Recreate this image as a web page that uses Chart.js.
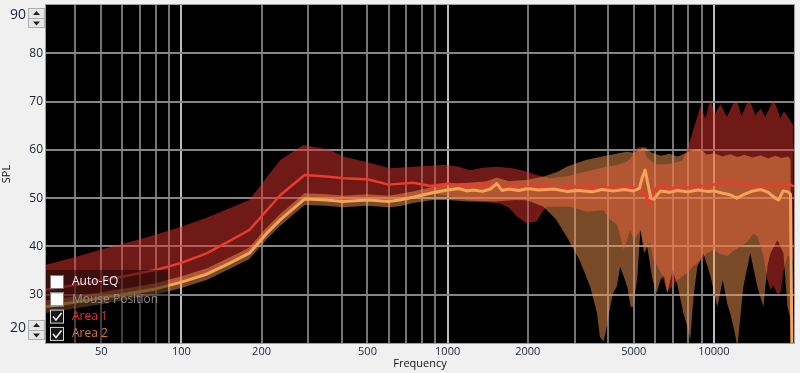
<!DOCTYPE html>
<html>
<head>
<meta charset="utf-8">
<script src="https://cdn.jsdelivr.net/npm/chart.js"></script>
<style>
  html, body { margin: 0; padding: 0; background: #f0f0f0; }
  canvas { display: block; }
</style>
</head>
<body>
<canvas id="chart" width="800" height="373"></canvas>
<script>
// ---- data (Hz / dB SPL) ----
const a1MeanHz = [31,40,50,63,80,100,125,150,180,235,290,350,405,500,600,740,860,1000,1200,1400,1600,1800,2000,2300,2600,3000,3400,3800,4200,4600,5000,5300,5500,5700,5850,6050,6400,6900,7500,8000,8700,9400,10000,11000,12000,13000,14000,15000,16000,17000,18000,19000,19900];
const a1MeanDb = [31.0,32.0,33.0,34.0,35.1,36.6,38.6,41.0,43.4,50.6,54.8,54.5,54.1,53.9,52.8,53.2,52.5,53.0,52.5,52.7,52.2,52.6,52.3,52.5,52.0,52.4,52.2,52.4,52.0,52.3,52.2,51.5,51.0,48.8,49.5,52.0,52.6,52.0,52.5,52.2,52.6,52.4,52.8,53.3,53.4,52.8,52.5,52.2,52.6,53.0,52.4,53.0,52.5];

const a1TopHz = [31,40,52,63,80,100,125,150,180,235,287,360,405,496,607,742,990,1100,1213,1350,1530,1750,1980,2160,2430,2800,3300,3800,4300,4700,5000,5150,5400,5600,6000,6500,7000,7600,8000,8300,8900,9300,9700,10100,10600,11200,11800,12250,12700,13300,13700,14300,15000,15600,16300,16750,17300,17800,18300,18900,19400,19900];
const a1TopDb = [36.2,37.8,39.6,40.8,42.4,44.1,46.0,47.8,49.6,57.9,61.0,60.0,58.6,57.5,56.2,56.5,56.9,56.5,55.8,56.3,56.5,56.2,55.5,54.8,54.1,54.5,55.5,56.3,56.8,57.5,59.0,60.4,60.6,58.5,57.0,57.0,57.2,57.8,60.5,63.5,69.0,66.5,70.3,67.5,69.5,66.8,69.5,70.0,67.0,69.5,70.0,67.2,68.5,66.8,69.0,70.3,68.5,66.5,68.0,67.0,66.0,65.0];

const a1BotHz = [31,40,50,63,80,100,125,150,180,209,235,290,350,405,500,600,740,880,1000,1180,1400,1570,1700,1820,1980,2160,2290,2360,2880,3330,3850,4080,4330,4590,4850,5000,5300,5470,5770,5920,6130,6400,6680,7040,7290,7950,8400,8900,9400,9950,10500,11240,11800,12580,13400,14100,14600,15350,15900,16300,16750,17340,17800,18300,18900,19400,19900];
const a1BotDb = [27.8,28.8,29.6,30.5,31.5,32.9,34.6,36.7,38.9,43.0,45.8,50.1,49.9,49.6,49.9,49.6,50.5,51.0,50.5,49.6,49.2,48.9,48.0,46.2,44.8,45.2,47.5,48.2,48.2,47.2,47.5,45.5,44.5,39.3,43.4,41.3,43.4,40.0,40.7,37.2,36.0,34.0,30.5,32.0,33.0,34.5,36.0,37.0,38.5,39.3,38.5,38.0,39.0,40.0,41.0,42.7,42.0,38.0,33.0,31.0,32.0,30.0,30.5,35.0,38.0,38.0,37.0];

const a2MeanHz = [31,40,50,63,80,100,125,150,180,209,235,290,350,405,500,600,660,740,880,1000,1100,1180,1250,1350,1450,1530,1600,1700,1850,2000,2200,2500,2800,3100,3500,3800,4200,4600,5000,5250,5400,5520,5650,5800,5950,6300,6800,7300,8000,8700,9400,10000,10800,11500,12200,13000,14000,15000,16000,17000,17500,18200,19000,19400,19700];
const a2MeanDb = [27.5,28.5,29.3,30.2,31.2,32.6,34.3,36.4,38.6,42.7,45.5,49.8,49.6,49.3,49.6,49.3,49.6,50.2,51.1,51.7,52.0,51.5,51.7,51.4,51.9,53.0,51.6,51.9,51.6,52.0,51.7,51.9,51.4,51.6,51.3,51.8,51.5,51.8,51.5,52.0,54.5,55.8,53.0,50.0,49.8,51.5,51.2,51.6,51.3,51.7,51.4,51.5,51.0,50.7,50.0,50.8,51.5,51.8,51.2,50.0,49.6,51.5,51.3,50.8,12];

const a2TopHz = [31,40,50,63,80,100,125,150,180,209,235,290,350,405,500,600,740,880,1000,1200,1400,1530,1700,2000,2300,2600,2800,3300,3800,4300,4700,5000,5300,5500,5800,6300,6800,7300,7900,8400,8900,9400,10000,10800,11500,12300,13000,14000,15000,16000,17000,18000,19000,19400,19700];
const a2TopDb = [28.8,29.7,30.5,31.4,32.4,33.8,35.5,37.6,39.8,43.9,46.7,51.0,50.8,50.5,50.8,50.5,51.4,52.3,53.0,53.2,53.5,54.3,53.5,53.8,54.5,55.5,56.5,57.9,58.6,59.2,59.6,59.4,60.2,60.6,59.5,58.8,59.2,58.6,59.4,60.0,60.2,59.0,59.3,58.6,59.1,58.5,59.0,58.4,58.9,58.2,58.8,58.3,58.6,58.0,12];

const a2BotHz = [31,40,50,63,80,100,125,150,180,209,235,290,350,405,500,600,660,740,880,1000,1200,1500,1800,2000,2290,2560,2800,3130,3430,3640,3730,3850,3950,4080,4180,4320,4450,4590,4730,4870,4980,5160,5300,5470,5620,5890,6100,6290,6500,6680,7000,7300,7680,8000,8150,8400,8670,9130,9450,9700,10300,10800,11240,11540,12000,12250,12900,13700,14580,15350,15900,16320,17340,18260,18900,19400,19700];
const a2BotDb = [26.2,27.2,28.0,29.0,30.0,31.4,33.1,35.2,37.4,41.5,44.3,48.6,48.4,48.1,48.4,48.1,48.3,49.0,49.6,49.6,49.3,49.3,49.6,49.5,48.2,45.5,42.0,37.2,31.7,26.2,21.3,20.3,23.0,27.5,30.3,31.7,35.8,33.7,31.6,27.5,27.5,33.7,43.4,38.6,39.9,33.0,30.3,33.0,34.0,30.3,35.0,32.0,26.2,23.0,20.6,30.0,35.8,38.6,36.0,34.0,27.5,33.0,28.0,26.0,22.0,19.0,31.6,38.6,31.6,27.5,36.0,38.6,41.3,38.6,27.5,25.0,12];

// axes
const xGrid = [40,50,60,70,80,90,100,200,300,400,500,600,700,800,900,1000,2000,3000,4000,5000,6000,7000,8000,9000,10000];
const xLabels = [50,100,200,500,1000,2000,5000,10000];
const xDecades = [100,1000,10000];
const yTicks = [30,40,50,60,70,80];
const yMin = 20, yMax = 90;

const legendLabels = ['Auto-EQ', 'Mouse Position', 'Area 1', 'Area 2'];
const legendChecked = [false, false, true, true];
const legendColors = ['#eef0ff', '#8c8c8c', '#e8322a', '#e07a2e'];

const pts = (hz, db) => hz.map((f, i) => ({x: f, y: db[i]}));

Chart.defaults.font.family = '"Open Sans", "Noto Sans", sans-serif';
const axisText = '#1b2233';

function spinner(ctx, x, y, w, h) {
  ctx.fillStyle = '#e6e6e6';
  ctx.fillRect(x, y, w, h);
  ctx.strokeStyle = '#adadad';
  ctx.lineWidth = 1;
  ctx.strokeRect(x + 0.5, y + 0.5, w - 1, h - 1);
  ctx.beginPath();
  ctx.moveTo(x + 1, y + h / 2 + 0.5);
  ctx.lineTo(x + w - 1, y + h / 2 + 0.5);
  ctx.stroke();
  const cx = x + w / 2;
  ctx.fillStyle = '#222';
  ctx.beginPath();
  ctx.moveTo(cx - 3.5, y + h / 4 + 2);
  ctx.lineTo(cx + 3.5, y + h / 4 + 2);
  ctx.lineTo(cx, y + h / 4 - 2);
  ctx.fill();
  ctx.beginPath();
  ctx.moveTo(cx - 3.5, y + 3 * h / 4 - 1.5);
  ctx.lineTo(cx + 3.5, y + 3 * h / 4 - 1.5);
  ctx.lineTo(cx, y + 3 * h / 4 + 2.5);
  ctx.fill();
}

const plotFrame = {
  id: 'plotFrame',
  beforeDraw(chart) {
    const {ctx, chartArea: a} = chart;
    ctx.save();
    ctx.fillStyle = '#000';
    ctx.fillRect(a.left, a.top, a.right - a.left, a.bottom - a.top);
    ctx.restore();
  },
  afterDraw(chart) {
    const {ctx, chartArea: a} = chart;
    ctx.save();
    ctx.strokeStyle = '#a0a0a0';
    ctx.lineWidth = 1;
    ctx.strokeRect(a.left - 0.5, a.top - 0.5, a.right - a.left + 1, a.bottom - a.top + 1);
    // axis limits with spin buttons
    ctx.font = '14px "Open Sans"';
    ctx.fillStyle = axisText;
    ctx.textAlign = 'right';
    ctx.textBaseline = 'middle';
    ctx.fillText(String(yMax), 26, 15);
    ctx.fillText(String(yMin), 26, 328);
    spinner(ctx, 28, 8, 17, 20);
    spinner(ctx, 28, 320, 17, 20);
    ctx.restore();
  }
};

const legendBox = {
  id: 'legendBox',
  afterDatasetsDraw(chart) {
    const {ctx, chartArea: a} = chart;
    ctx.save();
    ctx.fillStyle = 'rgba(0,0,0,0.45)';
    ctx.fillRect(a.left, 270, 122, a.bottom - 270);
    ctx.font = '12px "Open Sans"';
    ctx.textBaseline = 'middle';
    ctx.textAlign = 'left';
    legendLabels.forEach((label, i) => {
      const top = 275 + i * 17.3;
      const bx = 50, s = 14;
      if (legendChecked[i]) {
        ctx.fillStyle = 'rgba(40,40,40,0.6)';
        ctx.fillRect(bx, top, s, s);
        ctx.strokeStyle = '#d8d8d8';
        ctx.lineWidth = 1;
        ctx.strokeRect(bx + 0.5, top + 0.5, s - 1, s - 1);
        ctx.strokeStyle = '#f2f2f2';
        ctx.lineWidth = 1.6;
        ctx.beginPath();
        ctx.moveTo(bx + 3, top + 7);
        ctx.lineTo(bx + 6, top + 10.5);
        ctx.lineTo(bx + 11.5, top + 3.5);
        ctx.stroke();
      } else {
        ctx.fillStyle = '#fbfbfb';
        ctx.fillRect(bx, top, s, s);
        ctx.strokeStyle = '#7a7a7a';
        ctx.lineWidth = 1;
        ctx.strokeRect(bx + 0.5, top + 0.5, s - 1, s - 1);
      }
      ctx.fillStyle = legendColors[i];
      ctx.fillText(label, 72, top + s / 2);
    });
    ctx.restore();
  }
};

const bandRed = 'rgba(222,52,44,0.5)';
const bandOrange = 'rgba(250,155,82,0.48)';

new Chart(document.getElementById('chart'), {
  type: 'line',
  data: {
    datasets: [
      {label: 'Area 1 min', data: pts(a1BotHz, a1BotDb), borderWidth: 0, fill: false, order: 10},
      {label: 'Area 1 max', data: pts(a1TopHz, a1TopDb), borderWidth: 0, fill: '-1', backgroundColor: bandRed, order: 9},
      {label: 'Area 2 min', data: pts(a2BotHz, a2BotDb), borderWidth: 0, fill: false, order: 8},
      {label: 'Area 2 max', data: pts(a2TopHz, a2TopDb), borderWidth: 0, fill: '-1', backgroundColor: bandOrange, order: 7},
      {label: 'Area 1', data: pts(a1MeanHz, a1MeanDb), borderColor: '#ec3b2c', borderWidth: 2.5, fill: false, order: 2},
      {label: 'Area 2', data: pts(a2MeanHz, a2MeanDb), borderColor: '#f2a458', borderWidth: 3, fill: false, order: 1}
    ]
  },
  options: {
    responsive: false,
    animation: false,
    events: [],
    layout: {padding: {top: 5, right: 6, left: 0, bottom: 0}},
    elements: {
      point: {radius: 0},
      line: {tension: 0, borderJoinStyle: 'round', borderCapStyle: 'round'}
    },
    plugins: {legend: {display: false}, tooltip: {enabled: false}},
    scales: {
      x: {
        type: 'logarithmic',
        min: 31,
        max: 20000,
        afterBuildTicks: s => { s.ticks = xGrid.map(v => ({value: v})); },
        afterFit: s => { s.height = 30; s.paddingLeft = 0; s.paddingRight = 0; },
        grid: {
          color: c => (c.tick && xDecades.includes(c.tick.value)) ? '#bcbcbc' : '#747474',
          lineWidth: 2,
          drawTicks: false
        },
        border: {display: false},
        ticks: {
          autoSkip: false,
          maxRotation: 0,
          padding: 2,
          color: axisText,
          font: {size: 11},
          callback: v => xLabels.includes(v) ? String(v) : ''
        },
        title: {display: true, text: 'Frequency', color: '#111', font: {size: 11}, padding: {top: 0, bottom: 3}}
      },
      y: {
        min: yMin,
        max: yMax,
        afterBuildTicks: s => { s.ticks = yTicks.map(v => ({value: v})); },
        afterFit: s => { s.width = 46; s.paddingTop = 0; s.paddingBottom = 0; },
        grid: {color: '#858585', lineWidth: 2, drawTicks: false},
        border: {display: false},
        ticks: {padding: 3, color: axisText, font: {size: 12}},
        title: {display: true, text: 'SPL', color: '#111', font: {size: 11}, padding: 0}
      }
    }
  },
  plugins: [plotFrame, legendBox]
});
</script>
</body>
</html>
